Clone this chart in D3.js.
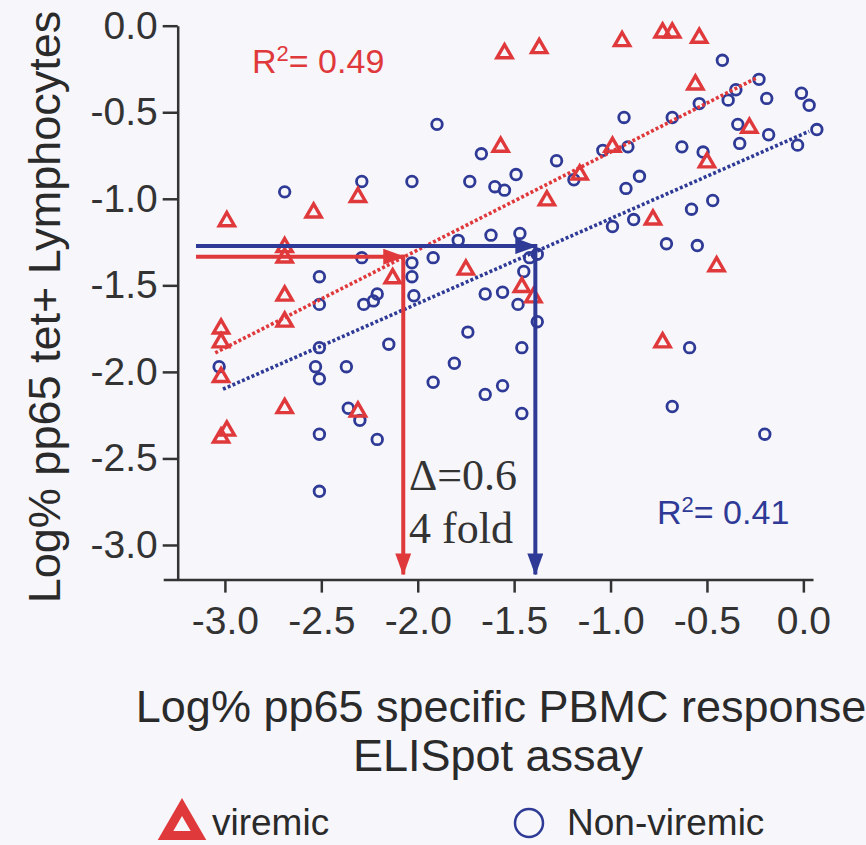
<!DOCTYPE html>
<html><head><meta charset="utf-8">
<script src="https://cdn.jsdelivr.net/npm/d3@7/dist/d3.min.js"></script>
<style>
html,body{margin:0;padding:0;background:#f6f6fb;}
svg{display:block;}
</style></head>
<body><svg id="chart" width="866" height="845"></svg>
<script>
// ---- data ----
const xTicks = [-3, -2.5, -2, -1.5, -1, -0.5, 0];
const xTickLabels = ["-3.0", "-2.5", "-2.0", "-1.5", "-1.0", "-0.5", "0.0"];
const yTicks = [0, -0.5, -1, -1.5, -2, -2.5, -3];
const yTickLabels = ["0.0", "-0.5", "-1.0", "-1.5", "-2.0", "-2.5", "-3.0"];

const viremicX = [-1.55,-1.37,-0.94,-0.73,-0.68,-0.54,-0.56,-0.28,-1.57,-0.99,-1.16,-1.33,-0.50,-0.78,-0.45,-1.46,-1.40,-0.73,
  -2.31,-2.54,-2.99,-2.69,-2.69,-2.13,-1.75,-2.69,-3.02,-3.02,-2.69,-3.02,-2.69,-2.31,-2.99,-3.02];
const viremicY = [-0.16,-0.13,-0.09,-0.04,-0.04,-0.07,-0.34,-0.59,-0.70,-0.70,-0.86,-1.01,-0.79,-1.12,-1.39,-1.51,-1.57,-1.83,
  -0.99,-1.08,-1.13,-1.28,-1.34,-1.46,-1.41,-1.56,-1.75,-1.83,-1.71,-2.03,-2.21,-2.23,-2.34,-2.38];

const nonViremicX = [-1.90,-1.67,-2.29,-2.03,-1.73,-1.60,-1.55,-2.69,-1.79,-1.62,-2.29,-1.92,-2.03,-2.03,-2.51,-1.65,-1.56,-2.02,-2.21,-2.23,-2.28,-2.51,
  -0.42,-0.23,-0.35,-0.39,-0.19,-0.01,0.03,-0.54,-0.68,-0.93,-0.34,-0.18,0.07,-0.03,-0.33,-0.52,-0.63,-0.91,-1.04,-1.28,-1.49,-1.19,-0.85,-0.92,
  -0.47,-0.58,-0.99,-0.88,-0.71,-0.55,-1.47,-1.42,-1.38,-1.45,-1.48,-1.38,-1.74,-2.15,-2.51,-3.03,-2.53,-2.51,-2.37,-1.81,-1.92,-1.65,-1.56,
  -2.36,-2.30,-2.51,-2.21,-2.51,-1.46,-0.59,-1.46,-0.68,-0.20];
const nonViremicY = [-0.57,-0.74,-0.90,-0.90,-0.90,-0.93,-0.95,-0.96,-1.24,-1.21,-1.34,-1.34,-1.37,-1.45,-1.45,-1.55,-1.54,-1.56,-1.55,-1.59,-1.61,-1.61,
  -0.20,-0.31,-0.37,-0.43,-0.42,-0.39,-0.46,-0.45,-0.53,-0.53,-0.57,-0.63,-0.60,-0.69,-0.68,-0.73,-0.70,-0.70,-0.72,-0.78,-0.86,-0.89,-0.87,-0.94,
  -1.01,-1.06,-1.16,-1.12,-1.26,-1.27,-1.20,-1.34,-1.32,-1.42,-1.61,-1.71,-1.77,-1.84,-1.86,-1.97,-1.97,-2.04,-1.97,-1.95,-2.06,-2.13,-2.08,
  -2.21,-2.28,-2.36,-2.39,-2.69,-1.86,-1.86,-2.24,-2.20,-2.36];

const viremicFitX = [-3.05, -0.24];
const viremicFitY = [-1.89, -0.30];
const nonViremicFitX = [-3.01, 0.03];
const nonViremicFitY = [-2.10, -0.61];

// arrows: [startX, levelY, cornerX, endY]
const viremicArrow = [-3.15, -1.335, -2.075, -3.17];
const nonViremicArrow = [-3.15, -1.273, -1.39, -3.17];

const r2Labels = ["0.49", "0.41"];
const deltaLabels = ["\u0394=0.6", "4 fold"];
const legendLabels = ["viremic", "Non-viremic"];
const xTitle = ["Log% pp65 specific PBMC response", "ELISpot assay"];
const yTitle = "Log% pp65 tet+ Lymphocytes";

// ---- drawing ----
const RED = "#e0393b", BLUE = "#2e3a96", INK = "#333";
const SANS = "'Liberation Sans', Arial, Helvetica, sans-serif";
const SERIF = "'Liberation Serif', 'Times New Roman', serif";

const svg = d3.select("#chart");
svg.append("rect").attr("width", 866).attr("height", 845).attr("fill", "#f6f6fb");

const x = d3.scaleLinear().domain([-3.32, 0.05]).range([163.2, 813]);
const y = d3.scaleLinear().domain([-3.2, 0]).range([579.6, 25.7]);

// markers
const defs = svg.append("defs");
function arrowMarker(id, color) {
  defs.append("marker").attr("id", id)
    .attr("markerUnits", "userSpaceOnUse")
    .attr("viewBox", "0 0 22 16").attr("refX", 21).attr("refY", 8)
    .attr("markerWidth", 22).attr("markerHeight", 16)
    .attr("orient", "auto")
    .append("path").attr("d", "M0,0 L22,8 L0,16 Z").attr("fill", color);
}
arrowMarker("arRed", RED);
arrowMarker("arBlue", BLUE);

// axes
const xAxis = d3.axisBottom(x).tickValues(xTicks)
  .tickFormat((d, i) => xTickLabels[i]).tickSize(13).tickSizeOuter(0).tickPadding(14);
const gx = svg.append("g").attr("transform", `translate(0,${y(-3.2)})`).call(xAxis);
gx.select(".domain").attr("stroke", INK).attr("stroke-width", 2.5);
gx.selectAll(".tick line").attr("stroke", INK).attr("stroke-width", 2.5);
gx.selectAll(".tick text").attr("fill", INK).style("font-family", SANS).style("font-size", "39px");

const yAxis = d3.axisLeft(y).tickValues(yTicks)
  .tickFormat((d, i) => yTickLabels[i]).tickSize(15).tickSizeOuter(0).tickPadding(5);
const gy = svg.append("g").attr("transform", `translate(${x(-3.32) + 14.5},0)`).call(yAxis);
gy.select(".domain").attr("stroke", INK).attr("stroke-width", 2.5);
gy.selectAll(".tick line").attr("stroke", INK).attr("stroke-width", 2.5);
gy.selectAll(".tick text").attr("fill", INK).style("font-family", SANS).style("font-size", "39px");

// points
const vir = viremicX.map((v, i) => ({x: v, y: viremicY[i]}));
const non = nonViremicX.map((v, i) => ({x: v, y: nonViremicY[i]}));

svg.append("g").selectAll("circle").data(non).join("circle")
  .attr("cx", d => x(d.x)).attr("cy", d => y(d.y)).attr("r", 5.3)
  .attr("fill", "none").attr("stroke", BLUE).attr("stroke-width", 2.8);

const tri = d3.symbol().type(d3.symbolTriangle).size(100);
svg.append("g").selectAll("path").data(vir).join("path")
  .attr("d", tri).attr("transform", d => `translate(${x(d.x)},${y(d.y)})`)
  .attr("fill", "none").attr("stroke", RED).attr("stroke-width", 3.4).attr("stroke-linejoin", "miter");

// fit lines
const line = d3.line().x(d => x(d[0])).y(d => y(d[1]));
svg.append("path").datum(viremicFitX.map((v, i) => [v, viremicFitY[i]]))
  .attr("d", line).attr("stroke", RED).attr("stroke-width", 3.6)
  .attr("stroke-dasharray", "3,2.2").attr("fill", "none");
svg.append("path").datum(nonViremicFitX.map((v, i) => [v, nonViremicFitY[i]]))
  .attr("d", line).attr("stroke", BLUE).attr("stroke-width", 3.6)
  .attr("stroke-dasharray", "3,2.2").attr("fill", "none");

// arrows
function drawArrows(a, color, mk) {
  const [x0, yl, xc, y1] = a;
  svg.append("line").attr("x1", x(x0)).attr("y1", y(yl)).attr("x2", x(xc) + 1).attr("y2", y(yl))
    .attr("stroke", color).attr("stroke-width", 4).attr("marker-end", `url(#${mk})`);
  svg.append("line").attr("x1", x(xc)).attr("y1", y(yl) - 2).attr("x2", x(xc)).attr("y2", y(y1))
    .attr("stroke", color).attr("stroke-width", 4).attr("marker-end", `url(#${mk})`);
}
drawArrows(nonViremicArrow, BLUE, "arBlue");
drawArrows(viremicArrow, RED, "arRed");

// R² labels
function r2(xp, yp, val, color) {
  const t = svg.append("text").attr("x", xp).attr("y", yp).attr("fill", color)
    .style("font-family", SANS).style("font-size", "34px");
  t.append("tspan").text("R");
  t.append("tspan").text("2").attr("dy", -12).style("font-size", "22px");
  t.append("tspan").text("= " + val).attr("dy", 12);
}
r2(252, 73, r2Labels[0], RED);
r2(657, 524, r2Labels[1], BLUE);

// delta labels (one text block, two lines)
const dt = svg.append("text").attr("fill", "#333")
  .style("font-family", SERIF).style("font-size", "44px");
dt.append("tspan").attr("x", 409).attr("y", 490).text(deltaLabels[0]);
dt.append("tspan").attr("x", 409).attr("y", 543).text(deltaLabels[1]);

// axis titles
svg.append("text").attr("x", 501).attr("y", 722).attr("text-anchor", "middle").text(xTitle[0])
  .attr("fill", "#2a2a2a").style("font-family", SANS).style("font-size", "45px");
svg.append("text").attr("x", 498).attr("y", 771).attr("text-anchor", "middle").text(xTitle[1])
  .attr("fill", "#2a2a2a").style("font-family", SANS).style("font-size", "45px");

svg.append("text").attr("transform", "translate(60,307) rotate(-90)").attr("text-anchor", "middle")
  .text(yTitle).attr("fill", "#2a2a2a").style("font-family", SANS).style("font-size", "45px");

// legend
const lg = svg.append("g");
lg.append("path").attr("d", d3.symbol().type(d3.symbolTriangle).size(470))
  .attr("transform", "translate(182,826)").attr("fill", "none")
  .attr("stroke", RED).attr("stroke-width", 9).attr("stroke-linejoin", "miter");
lg.append("text").attr("x", 212).attr("y", 835).text(legendLabels[0])
  .attr("fill", "#2a2a2a").style("font-family", SANS).style("font-size", "37px");
lg.append("circle").attr("cx", 529).attr("cy", 823).attr("r", 14)
  .attr("fill", "none").attr("stroke", BLUE).attr("stroke-width", 2.5);
lg.append("text").attr("x", 567).attr("y", 835).text(legendLabels[1])
  .attr("fill", "#2a2a2a").style("font-family", SANS).style("font-size", "37px");
</script>
</body></html>
